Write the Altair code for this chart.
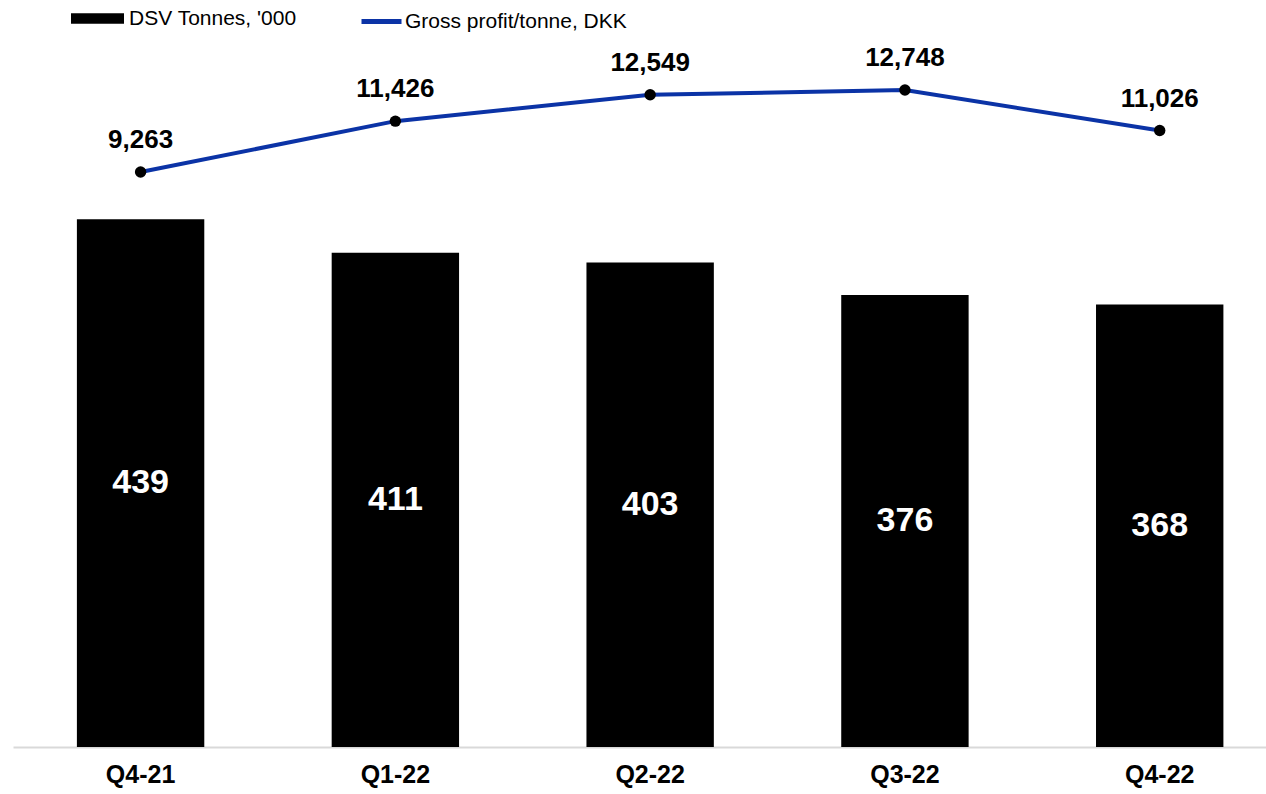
import altair as alt
import pandas as pd

quarters = ["Q4-21", "Q1-22", "Q2-22", "Q3-22", "Q4-22"]
tonnes = [439, 411, 403, 376, 368]
gp_per_tonne = [9263, 11426, 12549, 12748, 11026]
series_names = ["DSV Tonnes, '000", "Gross profit/tonne, DKK"]

df = pd.DataFrame({"q": quarters, "tonnes": tonnes, "gp": gp_per_tonne})
df["s1"] = series_names[0]
df["s2"] = series_names[1]
df["mid"] = df["tonnes"] / 2

FONT = "Liberation Sans"
BLUE = "#0b33a6"

x = alt.X("q:N", sort=quarters, title=None,
          scale=alt.Scale(paddingInner=0.5, paddingOuter=0.209, align=0.6),
          axis=alt.Axis(labelAngle=0, labelFontSize=25, labelFontWeight="bold",
                        labelColor="black", labelFont=FONT, labelPadding=15,
                        ticks=False, domainColor="#d9d9d9", domainWidth=2))

ys1 = alt.Scale(domain=[0, 588], nice=False, zero=False)
ys2 = alt.Scale(domain=[-15170, 14875], nice=False, zero=False)

base = alt.Chart(df)

bars = base.mark_bar().encode(
    x=x, y=alt.Y("tonnes:Q", scale=ys1, axis=None),
    fill=alt.Fill("s1:N",
                  scale=alt.Scale(domain=[series_names[0]], range=["black"]),
                  legend=alt.Legend(title=None, orient="none", legendX=58, legendY=-48,
                                    symbolType="M-1,-0.2H1V0.2H-1Z", symbolSize=2809,
                                    symbolStrokeWidth=0, symbolFillColor="black",
                                    labelFontSize=21, labelFont=FONT, labelColor="black",
                                    labelOffset=5, labelLimit=500)),
)
bar_text = base.mark_text(color="white", fontSize=34, fontWeight="bold", font=FONT,
                          baseline="middle").encode(
    x=x, y=alt.Y("mid:Q", scale=ys1, axis=None),
    text=alt.Text("tonnes:Q"),
)

left = alt.layer(bars, bar_text)

line = base.mark_line(strokeWidth=4).encode(
    x=x, y=alt.Y("gp:Q", scale=ys2, axis=None),
    stroke=alt.Stroke("s2:N",
                      scale=alt.Scale(domain=[series_names[1]], range=[BLUE]),
                      legend=alt.Legend(title=None, orient="none", legendX=346, legendY=-41,
                                        symbolType="stroke", symbolSize=1600,
                                        symbolStrokeWidth=5,
                                        labelFontSize=21, labelFont=FONT, labelColor="black",
                                        labelOffset=1, labelLimit=500)),
)
points = base.mark_circle(size=130, color="black", opacity=1).encode(
    x=x, y=alt.Y("gp:Q", scale=ys2, axis=None))
line_text = base.mark_text(color="black", fontSize=26, fontWeight="bold", font=FONT,
                           dy=-32, baseline="middle").encode(
    x=x, y=alt.Y("gp:Q", scale=ys2, axis=None), text=alt.Text("gp:Q", format=",")
)
right = alt.layer(line, points, line_text)

chart = alt.layer(left, right).resolve_scale(y="independent").properties(
    width=1253, height=707,
    autosize=alt.AutoSizeParams(type="none"),
    padding={"left": 13, "top": 40, "right": 0, "bottom": 47},
).configure_view(stroke=None)

chart.save("out.html", embed_options={"renderer": "svg", "actions": False})
